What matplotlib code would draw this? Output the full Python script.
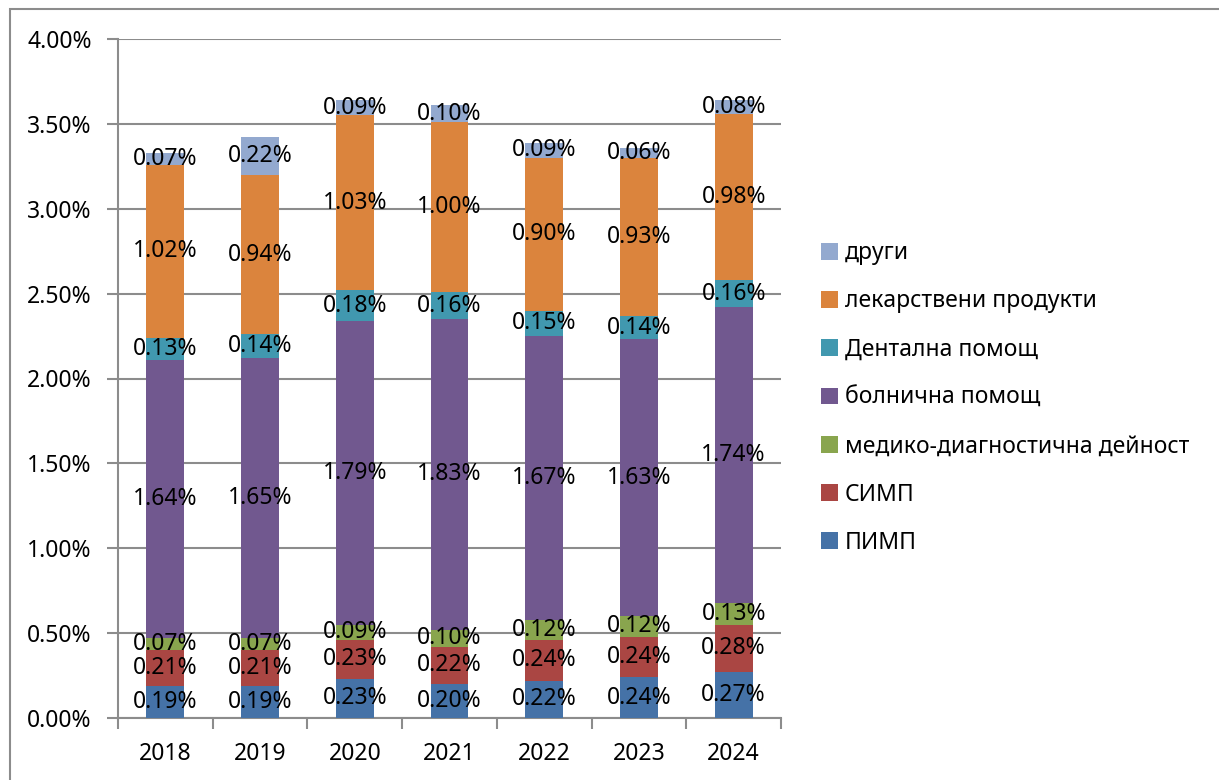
import numpy as np
import matplotlib.pyplot as plt
from matplotlib.patches import Rectangle

plt.rcParams['font.family'] = ['Noto Sans', 'DejaVu Sans']

""" Data """
years = ['2018', '2019', '2020', '2021', '2022', '2023', '2024']
pimp = [0.19, 0.19, 0.23, 0.20, 0.22, 0.24, 0.27]
simp = [0.21, 0.21, 0.23, 0.22, 0.24, 0.24, 0.28]
medico = [0.07, 0.07, 0.09, 0.10, 0.12, 0.12, 0.13]
bolnichna = [1.64, 1.65, 1.79, 1.83, 1.67, 1.63, 1.74]
dentalna = [0.13, 0.14, 0.18, 0.16, 0.15, 0.14, 0.16]
lekarstva = [1.02, 0.94, 1.03, 1.00, 0.90, 0.93, 0.98]
drugi = [0.07, 0.22, 0.09, 0.10, 0.09, 0.06, 0.08]

series = [pimp, simp, medico, bolnichna, dentalna, lekarstva, drugi]
names = ['ПИМП', 'СИМП', 'медико-диагностична дейност', 'болнична помощ',
         'Дентална помощ', 'лекарствени продукти', 'други']
colors = ['#4572A7', '#AA4643', '#89A54E', '#71588F', '#4198AF', '#DB843D', '#93A9CF']
grid_c = '#8C8C8C'

fig = plt.figure(figsize=(12.19, 7.8), dpi=100)
ax = fig.add_axes([118 / 1219, 1 - 718 / 780, 663 / 1219, 679 / 780])

# outer chart border (clipped on right / bottom)
fig.patches.append(Rectangle((10 / 1219, -0.05), 1.1, 1 - 9 / 780 + 0.05,
                             transform=fig.transFigure, fill=False,
                             edgecolor=grid_c, lw=1.5))

x = np.arange(len(years))
bottom = np.zeros(len(years))
handles = []
for vals, name, c in zip(series, names, colors):
    vals = np.array(vals)
    b = ax.bar(x, vals, width=0.4, bottom=bottom, color=c, label=name, zorder=3)
    handles.append(b)
    for xi, v, bt in zip(x, vals, bottom):
        ax.text(xi, bt + v / 2, f'{v:.2f}%', ha='center', va='center',
                fontsize=16.5, zorder=4)
    bottom = bottom + vals

ax.set_xlim(-0.5, len(years) - 0.5)
ax.set_ylim(0, 4)
ax.set_yticks(np.arange(0, 4.01, 0.5))
ax.set_yticklabels([f'{v:.2f}%' for v in np.arange(0, 4.01, 0.5)], fontsize=16.5)
ax.set_xticks(x)
ax.set_xticklabels(years, fontsize=16.5)
ax.set_xticks(np.arange(-0.5, len(years), 1), minor=True)
ax.tick_params(axis='x', which='major', length=0, pad=17)
ax.tick_params(axis='x', which='minor', length=8, color=grid_c, width=1.5)
ax.tick_params(axis='y', length=8, color=grid_c, width=1.5, pad=11)
ax.yaxis.grid(True, color=grid_c, lw=1.5, zorder=0)

for s in ['top', 'right']:
    ax.spines[s].set_visible(False)
for s in ['left', 'bottom']:
    ax.spines[s].set_color(grid_c)
    ax.spines[s].set_linewidth(1.5)

leg = fig.legend(handles[::-1], names[::-1], loc='center left',
                 bbox_to_anchor=(800 / 1219, 1 - 398 / 780), frameon=False,
                 fontsize=16.5, handlelength=0.75, handleheight=0.75,
                 handletextpad=0.3, labelspacing=1.06)

fig.savefig('out.png', dpi=100)
